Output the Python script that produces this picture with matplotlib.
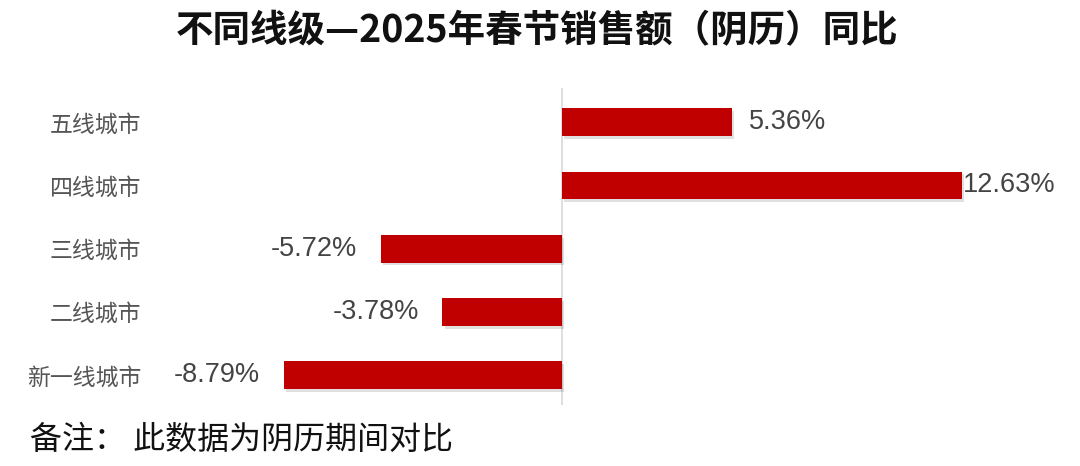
import matplotlib
matplotlib.use("Agg")
import matplotlib.pyplot as plt
import matplotlib.patheffects as pe

plt.rcParams['font.family'] = ['Noto Sans CJK SC', 'DejaVu Sans']

categories = ['新一线城市', '二线城市', '三线城市', '四线城市', '五线城市']
values = [-8.79, -3.78, -5.72, 12.63, 5.36]
value_labels = ['-8.79%', '-3.78%', '-5.72%', '12.63%', '5.36%']
title = '不同线级—2025年春节销售额（阴历）同比'
footnote = '备注： 此数据为阴历期间对比'

fig = plt.figure(figsize=(10.8, 4.66), dpi=100)
ax = fig.add_axes([0.15, 0.131, 0.83, 0.68])

ypos = list(range(len(categories)))
bars = ax.barh(ypos, values, height=0.44, color='#C00000', zorder=3)
for b in bars:
    b.set_path_effects([pe.SimplePatchShadow(offset=(1.5, -2), shadow_rgbFace='#000000', alpha=0.12), pe.Normal()])

ax.set_xlim(-12.63, 15.66)
ax.set_ylim(-0.47, 4.54)
ax.set_yticks(ypos)
ax.set_yticklabels(categories, fontsize=16.5, color='#555555')
ax.tick_params(axis='y', length=0, pad=15)
ax.set_xticks([])
for s in ['top', 'right', 'bottom', 'left']:
    ax.spines[s].set_visible(False)
ax.axvline(0, color='#d9d9d9', lw=1.2, zorder=2)

for y, v, lab in zip(ypos, values, value_labels):
    if v >= 0:
        off = 0 if v > 10 else 12
        ax.annotate(lab, (v, y), xytext=(off, 0), textcoords='offset points',
                    ha='left', va='center', fontsize=19.5, color='#444444',
                    family='Liberation Sans')
    else:
        ax.annotate(lab, (v, y), xytext=(-17, 0), textcoords='offset points',
                    ha='right', va='center', fontsize=19.5, color='#444444',
                    family='Liberation Sans')

fig.text(0.497, 0.935, title, ha='center', va='center', fontsize=27,
         fontweight='bold', color='#111111')
fig.text(0.028, 0.056, footnote, ha='left', va='center', fontsize=23,
         color='#111111')

fig.savefig('out.png', dpi=100, facecolor='white')
